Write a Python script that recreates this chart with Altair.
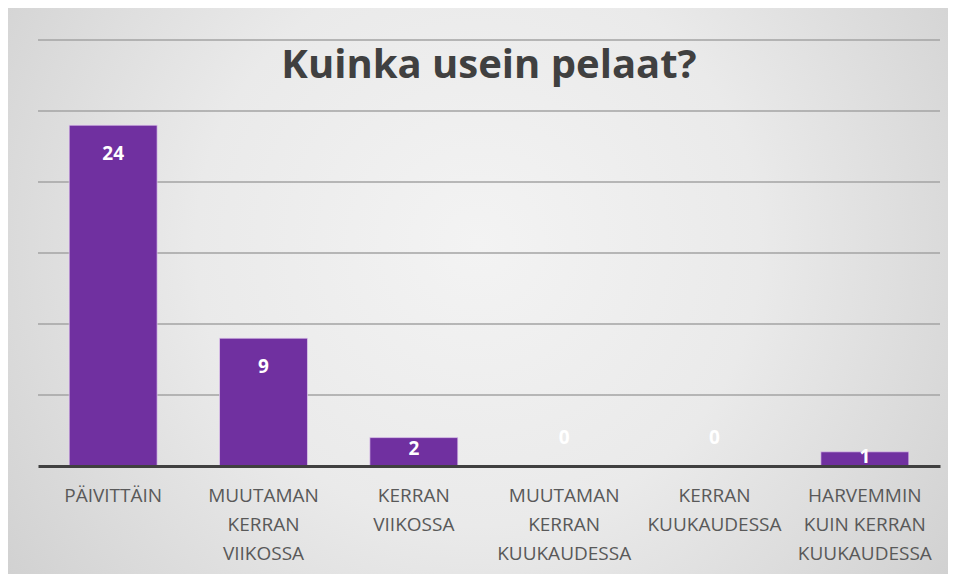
import altair as alt
import pandas as pd

categories = [
    "PÄIVITTÄIN",
    "MUUTAMAN|KERRAN|VIIKOSSA",
    "KERRAN|VIIKOSSA",
    "MUUTAMAN|KERRAN|KUUKAUDESSA",
    "KERRAN|KUUKAUDESSA",
    "HARVEMMIN|KUIN KERRAN|KUUKAUDESSA",
]
counts = [24, 9, 2, 0, 0, 1]
grid_values = [5, 10, 15, 20, 25, 30]
title_text = "Kuinka usein pelaat?"

df = pd.DataFrame({"cat": categories, "count": counts})
grid_df = pd.DataFrame({"v": grid_values})
one = pd.DataFrame({"t": [title_text]})

W, H = 902, 426
PL, PT, PR, PB = 30, 32, 8, 108

yscale = alt.Scale(domain=[0, 30], nice=False, zero=True)

x_enc = alt.X(
    "cat:N",
    sort=categories,
    scale=alt.Scale(paddingInner=0.415, paddingOuter=0.2075),
    axis=alt.Axis(
        title=None,
        labelExpr="split(datum.label, '|')",
        labelAngle=0,
        labelFont="Open Sans",
        labelFontSize=19,
        labelColor="#595959",
        labelLineHeight=29,
        labelBaseline="top",
        labelPadding=20,
        labelOverlap=False,
        labelLimit=400,
        ticks=False,
        domainColor="#404040",
        domainWidth=3,
        grid=False,
        zindex=2,
    ),
)

gradient = {
    "gradient": "radial",
    "x1": 0.5, "y1": 0.45, "r1": 0,
    "x2": 0.5, "y2": 0.45, "r2": 0.75,
    "stops": [
        {"offset": 0, "color": "#f3f3f3"},
        {"offset": 0.4, "color": "#eaeaea"},
        {"offset": 1, "color": "#c6c6c6"},
    ],
}

bg = alt.Chart(one).mark_rect(fill=gradient).encode(
    x=alt.value(-PL), x2=alt.value(W + PR), y=alt.value(-PT), y2=alt.value(H + PB)
)

grid = alt.Chart(grid_df).mark_rule(color="#a3a3a3", strokeWidth=1.3).encode(
    y=alt.Y("v:Q", scale=yscale, axis=None)
)

bars = alt.Chart(df).mark_bar(
    color="#7030a0", stroke="#e4cff0", strokeWidth=1, strokeOpacity=0.7
).encode(
    x=x_enc,
    y=alt.Y("count:Q", scale=yscale, axis=None),
)

labels = alt.Chart(df).transform_calculate(
    pos="datum.count >= 5 ? datum.count - 2 : (datum.count == 0 ? 2 : datum.count * 0.6)"
).mark_text(
    color="white", font="Open Sans", fontWeight="bold", fontSize=19, baseline="middle"
).encode(
    x=x_enc,
    y=alt.Y("pos:Q", scale=yscale, axis=None),
    text="count:Q",
)

title = alt.Chart(one).mark_text(
    font="Open Sans", fontWeight="bold", fontSize=40, color="#404040", baseline="middle"
).encode(x=alt.value(W / 2), y=alt.value(26), text="t:N")

chart = alt.layer(bg, grid, bars, labels, title).properties(
    width=W,
    height=H,
    autosize=alt.AutoSizeParams(type="none"),
    padding={"left": PL, "top": PT, "right": PR, "bottom": PB},
    background="#d0d0d0",
).configure_view(strokeWidth=0)

chart.save("out.html", embed_options={"renderer": "svg", "actions": False})
